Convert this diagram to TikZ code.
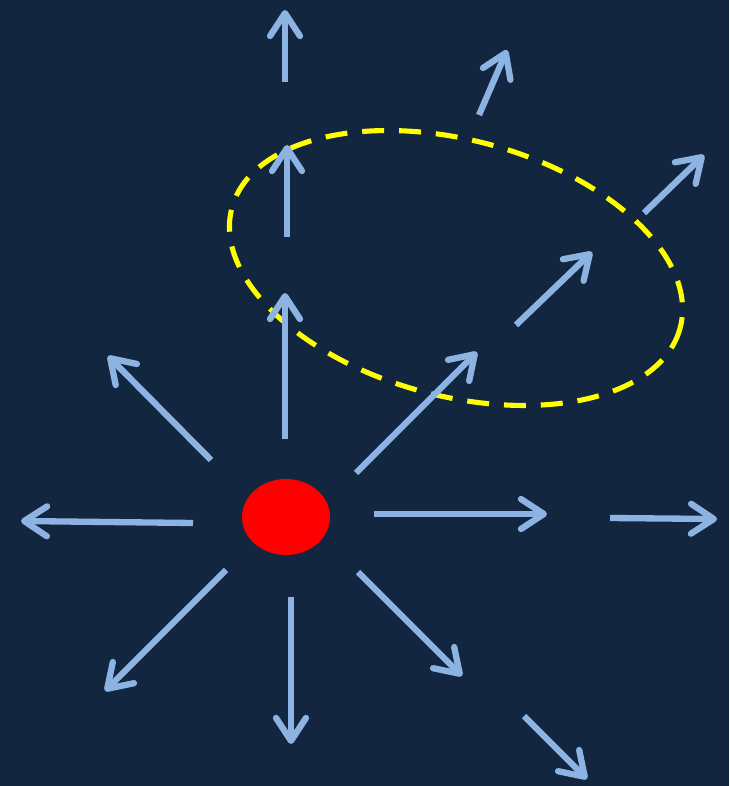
\documentclass[tikz,border=0pt]{standalone}
\usepackage{tikz}
\usetikzlibrary{arrows.meta,shapes.geometric}
\definecolor{night}{HTML}{12263F}
\definecolor{rayblue}{HTML}{8DB3E2}
\definecolor{charge}{HTML}{FF0000}
\definecolor{loop}{HTML}{FFFF00}
\tikzset{
  ray/.style={-{Straight Barb[length=13pt,width=17pt,round]}, line width=3.6pt, draw=rayblue},
  source/.style={ellipse, fill=charge, minimum width=1.76cm, minimum height=1.52cm, inner sep=0pt},
  surface/.style={draw=loop, line width=2.9pt, dash pattern=on 12.5pt off 8.5pt}
}
\begin{document}
\begin{tikzpicture}[x=0.02cm, y=-0.02cm]
    \fill[night] (0,0) rectangle (729,786);
    \useasboundingbox (0,0) rectangle (729,786);
    % the charge
    \node[source] (q) at (286,517) {};
    % the closed surface
    \draw[surface, rotate around={-15:(456,268)}] (456,268) ellipse [x radius=232, y radius=128];
    % field lines
    \foreach \name/\tx/\ty/\hx/\hy in {
        n1/285/82/285/10, n2/479/115/507/50, n3/287/237/287/145,
        ne1/644/213/704/155, ne2/516/325/592/252, n4/285/439/285/293,
        ne3/356/473/477/352, nw/211/460/108/356, w/193/523/21/521,
        e1/374/514/547/514, e2/610/518/717/519, sw/226/570/105/691,
        s/291/597/291/744, se1/358/572/462/676, se2/524/716/587/779} {
      \coordinate (\name-t) at (\tx,\ty);
      \coordinate (\name-h) at (\hx,\hy);
      \draw[ray] (\name-t) -- (\name-h);
    }
\end{tikzpicture}
\end{document}
